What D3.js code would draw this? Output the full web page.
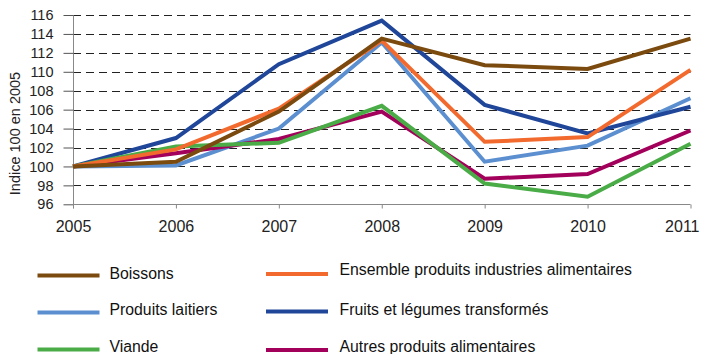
<!DOCTYPE html>
<html>
<head>
<meta charset="utf-8">
<script src="https://cdn.jsdelivr.net/npm/d3@7"></script>
<style>
  html, body { margin: 0; padding: 0; background: #fff; }
  svg { display: block; font-family: "Liberation Sans", Arial, sans-serif; }
</style>
</head>
<body>
<svg id="chart" width="703" height="354"></svg>
<script>
// Years on the x axis
const years = [2005, 2006, 2007, 2008, 2009, 2010, 2011];

// Price index per branch (base 100 in 2005)
const boissons   = [100, 100.5, 105.8, 113.5, 110.7, 110.3, 113.5];
const ensemble   = [100, 101.8, 106.1, 113.3, 102.6, 103.1, 110.2];
const laitiers   = [100, 100.1, 104.0, 113.1, 100.5, 102.2, 107.2];
const fruits     = [100, 103.0, 110.8, 115.4, 106.5, 103.5, 106.3];
const viande     = [100, 102.1, 102.5, 106.4, 98.2, 96.8, 102.4];
const autres     = [100, 101.4, 102.9, 105.8, 98.7, 99.2, 103.8];

// Y tick values
const yTicks = [96, 98, 100, 102, 104, 106, 108, 110, 112, 114, 116];

const seriesNames  = ["Boissons", "Ensemble produits industries alimentaires", "Produits laitiers",
                      "Fruits et légumes transformés", "Viande", "Autres produits alimentaires"];
const seriesColors = ["#7a4a0e", "#f26a2e", "#5b8fd0", "#1f4699", "#4aac47", "#a3005c"];
const seriesValues = [boissons, ensemble, laitiers, fruits, viande, autres];

const series = seriesNames.map((name, i) => ({ name, color: seriesColors[i], values: seriesValues[i] }));
// Draw order (last on top)
const drawOrder = [2, 3, 5, 4, 1, 0];

const svg = d3.select("#chart");
const FONT = "Liberation Sans, Arial, sans-serif";

const x = d3.scaleLinear().domain([2005, 2011]).range([73, 690.5]);
const y = d3.scaleLinear().domain([96, 116]).range([204.3, 15]);

// Dashed horizontal grid
svg.append("g")
  .selectAll("line")
  .data(yTicks.filter(t => t !== 96))
  .join("line")
  .attr("x1", x(2005)).attr("x2", x(2011))
  .attr("y1", d => Math.round(y(d)) + 0.5).attr("y2", d => Math.round(y(d)) + 0.5)
  .attr("stroke", "#222").attr("stroke-width", 1)
  .attr("stroke-dasharray", "8,5");

// Y axis
const yAxis = d3.axisLeft(y).tickValues(yTicks).tickSize(10).tickPadding(10);
const gy = svg.append("g").attr("transform", `translate(${x(2005) + 0.5},0)`).call(yAxis);
gy.select(".domain").attr("stroke", "#888").attr("d", `M0,${y(116)}V${y(96) + 4}`);
gy.selectAll(".tick line").attr("stroke", "#555");
gy.selectAll(".tick text").attr("font-size", 14.5).attr("fill", "#222").attr("font-family", FONT);

// X axis
const xAxis = d3.axisBottom(x).tickValues(years).tickFormat(d3.format("d")).tickSize(4).tickPadding(12);
const gx = svg.append("g").attr("transform", `translate(0,${Math.round(y(96)) + 0.5})`).call(xAxis);
gx.select(".domain").attr("stroke", "#888").attr("d", `M${x(2005)},0H${x(2011)}`);
gx.selectAll(".tick line").attr("stroke", "#888");
gx.selectAll(".tick text").attr("font-size", 16).attr("fill", "#222").attr("font-family", FONT);
// keep the last year label inside the frame
gx.selectAll(".tick text").filter(d => d === 2011).attr("text-anchor", "end").attr("x", 8.5);

// Y axis title
svg.append("text")
  .attr("transform", `translate(20,133.5) rotate(-90)`)
  .attr("text-anchor", "middle")
  .attr("font-size", 14.5).attr("fill", "#222")
  .text("Indice 100 en 2005");

// Series lines
const line = d3.line().x((d, i) => x(years[i])).y(d => y(d));
svg.append("g")
  .selectAll("path")
  .data(drawOrder.map(i => series[i]))
  .join("path")
  .attr("d", d => line(d.values))
  .attr("fill", "none")
  .attr("stroke", d => d.color)
  .attr("stroke-width", 4)
  .attr("stroke-linejoin", "miter");

// Legend: two columns, three rows
const legendPos = [
  { col: 0, row: 0 }, { col: 1, row: 0 },
  { col: 0, row: 1 }, { col: 1, row: 1 },
  { col: 0, row: 2 }, { col: 1, row: 2 }
];
const colLineX = [37.5, 266];
const colTextX = [109.5, 339.5];
const lineY = [[275.5, 312.5, 349.5], [274, 311.5, 350]];
const textY = [[278.5, 315, 351.5], [275, 315, 352]];
const lg = svg.append("g");
series.forEach((s, i) => {
  const p = legendPos[i];
  lg.append("line")
    .attr("x1", colLineX[p.col]).attr("x2", colLineX[p.col] + 62)
    .attr("y1", lineY[p.col][p.row]).attr("y2", lineY[p.col][p.row])
    .attr("stroke", s.color).attr("stroke-width", 4);
  lg.append("text")
    .attr("x", colTextX[p.col]).attr("y", textY[p.col][p.row])
    .attr("font-size", 15.8).attr("fill", "#111").text(s.name);
});
</script>
</body>
</html>
